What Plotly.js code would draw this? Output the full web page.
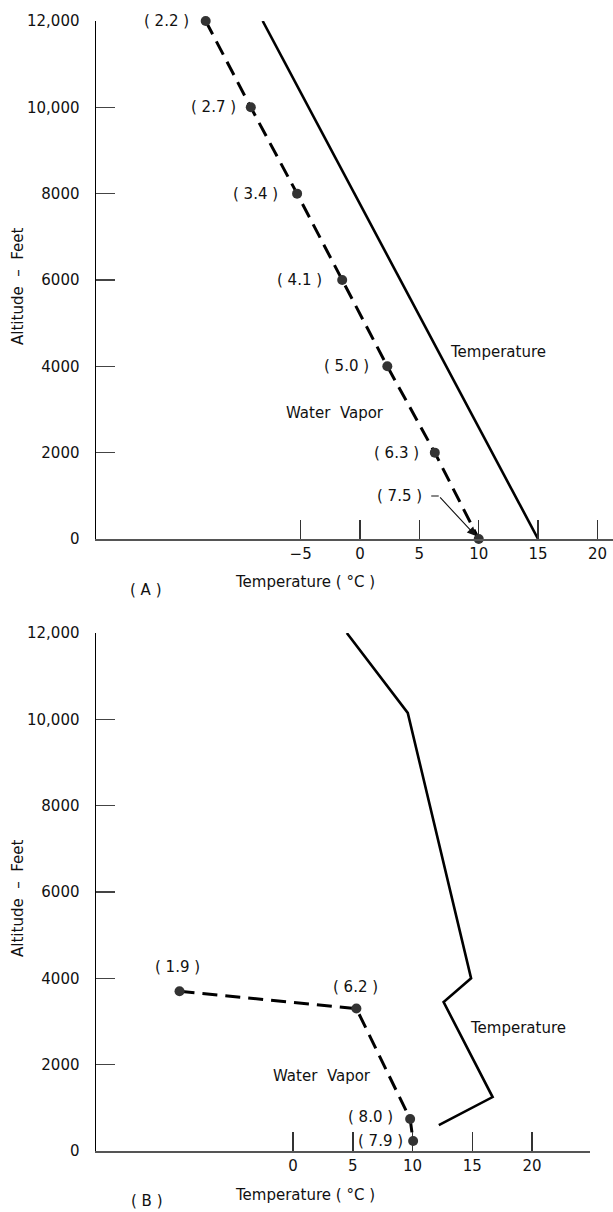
<!DOCTYPE html>
<html>
<head>
<meta charset="utf-8">
<script src="https://cdn.plot.ly/plotly-3.0.1.min.js"></script>
<style>html,body{margin:0;padding:0;background:#fff;}#chart{width:613px;height:1212px;}</style>
</head>
<body>
<div id="chart"></div>
<script>
// Panel A
const altA = [12000, 10000, 8000, 6000, 4000, 2000, 0];
const vaporA = [-13, -9.2, -5.3, -1.5, 2.3, 6.3, 10];
const vaporLabelsA = ['2.2', '2.7', '3.4', '4.1', '5.0', '6.3', '7.5'];
const tempAltA = [12000, 0];
const tempA = [-8.2, 15];

// Panel B
const altB = [3700, 3300, 740, 230];
const vaporB = [-9.5, 5.3, 9.8, 10.05];
const vaporLabelsB = ['1.9', '6.2', '8.0', '7.9'];
const tempAltB = [12000, 10150, 4000, 3450, 1250, 600];
const tempB = [4.5, 9.6, 14.9, 12.6, 16.7, 12.2];

const yTickVals = [0, 2000, 4000, 6000, 8000, 10000, 12000];
const yTickText = ['0', '2000', '4000', '6000', '8000', '10,000', '12,000'];
const xTickValsA = [-5, 0, 5, 10, 15, 20];
const xTickValsB = [0, 5, 10, 15, 20];

const FONT = 'DejaVu Sans, sans-serif';
const TXT = {family: FONT, size: 15, color: '#111'};

const traces = [
  {x: tempA, y: tempAltA, xaxis: 'x', yaxis: 'y', mode: 'lines',
   line: {color: '#000', width: 2.6}, cliponaxis: false, hoverinfo: 'skip'},
  {x: vaporA, y: altA, xaxis: 'x', yaxis: 'y', mode: 'lines+markers',
   line: {color: '#000', width: 3, dash: '15px,8px'},
   marker: {color: '#333', size: 10}, cliponaxis: false, hoverinfo: 'skip'},
  {x: tempB, y: tempAltB, xaxis: 'x2', yaxis: 'y2', mode: 'lines',
   line: {color: '#000', width: 2.6}, cliponaxis: false, hoverinfo: 'skip'},
  {x: vaporB, y: altB, xaxis: 'x2', yaxis: 'y2', mode: 'lines+markers',
   line: {color: '#000', width: 3, dash: '15px,8px'},
   marker: {color: '#333', size: 10}, cliponaxis: false, hoverinfo: 'skip'}
];

const ann = [];
// Panel A value labels (left of points), last one via leader arrow
const shiftsA = [-15, -13, -17, -18, -16, -14];
for (let i = 0; i < vaporLabelsA.length - 1; i++) {
  ann.push({x: vaporA[i], y: altA[i], xref: 'x', yref: 'y', text: '( ' + vaporLabelsA[i] + ' )',
    showarrow: false, xanchor: 'right', yanchor: 'middle', xshift: shiftsA[i], font: TXT});
}
const iL = vaporLabelsA.length - 1;
ann.push({x: vaporA[iL], y: altA[iL], xref: 'x', yref: 'y', text: '( ' + vaporLabelsA[iL] + ' )',
  showarrow: false, xanchor: 'right', yanchor: 'middle', xshift: -55, yshift: 43, font: TXT});
ann.push({x: vaporA[iL], y: altA[iL], xref: 'x', yref: 'y', text: '',
  showarrow: true, ax: -40, ay: -43, arrowhead: 2, arrowsize: 1.6, arrowwidth: 1.1, arrowcolor: '#111', standoff: 4});
ann.push({x: vaporA[iL], y: altA[iL], xref: 'x', yref: 'y', text: '', xshift: -40, yshift: 43,
  showarrow: true, ax: -9, ay: 0, arrowhead: 0, arrowwidth: 1.1, arrowcolor: '#111'});

// Panel B value labels
const posB = [
  {xanchor: 'center', yanchor: 'middle', xshift: -2, yshift: 24},
  {xanchor: 'center', yanchor: 'middle', xshift: -1, yshift: 22},
  {xanchor: 'right', yanchor: 'middle', xshift: -15, yshift: 2},
  {xanchor: 'right', yanchor: 'middle', xshift: -8, yshift: 0}
];
for (let i = 0; i < vaporLabelsB.length; i++) {
  ann.push(Object.assign({x: vaporB[i], y: altB[i], xref: 'x2', yref: 'y2', text: '( ' + vaporLabelsB[i] + ' )',
    showarrow: false, font: TXT}, posB[i]));
}

// Line labels
const C = {showarrow: false, font: TXT, xanchor: 'center', yanchor: 'middle'};
ann.push(Object.assign({x: 11.6, y: 4330, xref: 'x', yref: 'y', text: 'Temperature'}, C));
ann.push(Object.assign({x: -2.1, y: 2920, xref: 'x', yref: 'y', text: 'Water\u00A0\u00A0Vapor'}, C));
ann.push(Object.assign({x: 18.8, y: 2850, xref: 'x2', yref: 'y2', text: 'Temperature'}, C));
ann.push(Object.assign({x: 2.4, y: 1740, xref: 'x2', yref: 'y2', text: 'Water\u00A0\u00A0Vapor'}, C));

// Axis titles and panel tags
const xTitle = 'Temperature\u00A0(\u00A0\u00B0C\u00A0)';
const yTitle = 'Altitude\u00A0\u00A0\u2013\u00A0\u00A0Feet';
ann.push(Object.assign({xref: 'paper', yref: 'paper', x: 0.404, y: 0.5035, text: xTitle}, C));
ann.push(Object.assign({xref: 'paper', yref: 'paper', x: 0.404, y: -0.0389, text: xTitle}, C));
ann.push(Object.assign({xref: 'paper', yref: 'paper', x: -0.1509, y: 0.7655, text: yTitle, textangle: -90}, C));
ann.push(Object.assign({xref: 'paper', yref: 'paper', x: -0.1509, y: 0.2239, text: yTitle, textangle: -90}, C));
ann.push(Object.assign({xref: 'paper', yref: 'paper', x: 0.0967, y: 0.4965, text: '(\u00A0A\u00A0)'}, C));
ann.push(Object.assign({xref: 'paper', yref: 'paper', x: 0.0986, y: -0.0443, text: '(\u00A0B\u00A0)', borderpad: 0}, C));

const xCommon = {showgrid: false, zeroline: false, showline: true, linecolor: '#555', linewidth: 2,
  ticks: 'inside', ticklen: 19, tickwidth: 1.5, tickcolor: '#333', tickfont: TXT, fixedrange: true};
const yCommon = {showgrid: false, zeroline: false, showline: true, linecolor: '#000', linewidth: 1.5,
  ticks: 'inside', ticklen: 19, tickwidth: 1.5, tickcolor: '#444', tickfont: TXT,
  tickmode: 'array', tickvals: yTickVals, ticktext: yTickText, range: [0, 12000],
  ticklabelstandoff: 12, fixedrange: true};

const layout = {
  width: 613, height: 1212,
  margin: {l: 96, r: 0, t: 21, b: 61},
  paper_bgcolor: '#fff', plot_bgcolor: '#fff',
  showlegend: false,
  font: TXT,
  xaxis: Object.assign({}, xCommon, {domain: [0, 1], range: [-22.24, 21.31], anchor: 'y',
    tickmode: 'array', tickvals: xTickValsA}),
  yaxis: Object.assign({}, yCommon, {domain: [0.5416, 1], anchor: 'x'}),
  xaxis2: Object.assign({}, xCommon, {domain: [0, 0.9555], range: [-16.49, 24.85], anchor: 'y2',
    tickmode: 'array', tickvals: xTickValsB}),
  yaxis2: Object.assign({}, yCommon, {domain: [0, 0.4584], anchor: 'x2'}),
  annotations: ann
};

Plotly.newPlot('chart', traces, layout, {displayModeBar: false, staticPlot: true});
</script>
</body>
</html>
